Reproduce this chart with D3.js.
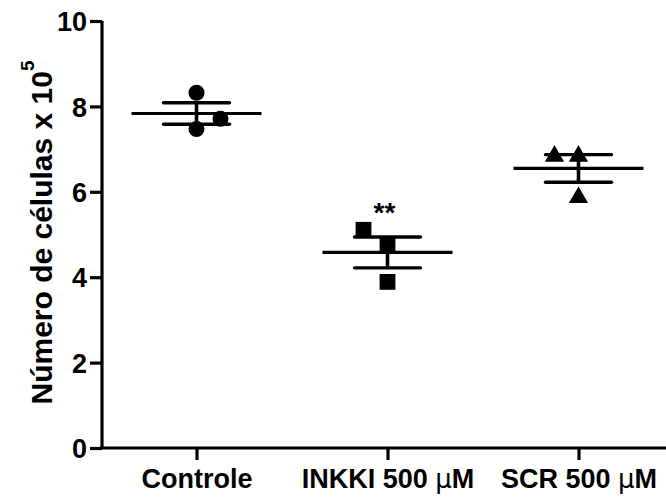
<!DOCTYPE html>
<html>
<head>
<meta charset="utf-8">
<script src="https://cdn.jsdelivr.net/npm/d3@7"></script>
<style>
  html, body { margin: 0; padding: 0; background: #fff; }
  svg { display: block; }
  text { font-family: "Liberation Sans", Arial, sans-serif; font-weight: bold; fill: #000; }
</style>
</head>
<body>
<svg id="chart" width="666" height="497"></svg>
<script>
// Groups and individual cell counts (x 10^5)
const groups = ["Controle", "INKKI 500 µM", "SCR 500 µM"];
const controleValues = [8.32, 7.47, 7.71];
const inkkiValues = [5.11, 4.74, 3.89];
const scrValues = [6.87, 6.87, 5.90];
const yTicks = [0, 2, 4, 6, 8, 10];
const significance = ["", "**", ""];

const seriesValues = [controleValues, inkkiValues, scrValues];
const markerShapes = [d3.symbolCircle, d3.symbolSquare, d3.symbolTriangle];
// horizontal dodge of overlapping points (-1 left, 0 centre, 1 right)
const dodge = [[0, 0, 1], [-1, 0, 0], [-1, 0, 0]];

const svg = d3.select("#chart");
const x = d3.scalePoint().domain(groups).range([101, 674]).padding(0.5);
const y = d3.scaleLinear().domain([0, 10]).range([448, 21]);

const lw = 3.2;

// Y axis
const yAxis = svg.append("g").attr("transform", "translate(102,0)")
  .call(d3.axisLeft(y).tickValues(yTicks).tickSize(12).tickPadding(3).tickFormat(d3.format("d")));
yAxis.select(".domain").attr("stroke", "#000").attr("stroke-width", lw).attr("d", `M0,${y(10)}V${y(0)}`);
yAxis.selectAll(".tick line").attr("stroke", "#000").attr("stroke-width", lw);
yAxis.selectAll(".tick text").attr("font-size", 27).attr("dy", "0.36em");

// X axis
const xAxis = svg.append("g").attr("transform", `translate(0,${y(0)})`)
  .call(d3.axisBottom(x).tickSize(12).tickPadding(5));
xAxis.select(".domain").attr("stroke", "#000").attr("stroke-width", lw).attr("d", `M100.4,0H${680}`);
xAxis.selectAll(".tick line").attr("stroke", "#000").attr("stroke-width", lw);
xAxis.selectAll(".tick text").attr("font-size", 27).attr("y", 40).attr("dy", 0)
  .each(function (d) {
    const t = d3.select(this);
    const m = d.match(/^(.*?)µ(M)$/);
    if (m) {
      t.text(null);
      t.append("tspan").text(m[1]);
      t.append("tspan").attr("font-family", "DejaVu Sans").attr("font-weight", "normal").attr("font-size", 26).text("µ");
      t.append("tspan").text("M");
    }
  });

// Y axis title
const title = svg.append("text")
  .attr("transform", `translate(52,${(y(0) + y(10)) / 2 - 2}) rotate(-90)`)
  .attr("text-anchor", "middle").attr("font-size", 30);
title.append("tspan").text("Número de células x 10");
title.append("tspan").attr("font-size", 19).attr("dy", "-0.95em").text("5");

// Mean and SEM for each group
const dodgeStep = 24;
seriesValues.forEach((vals, i) => {
  const cx = x(groups[i]);
  const mean = d3.mean(vals);
  const sem = d3.deviation(vals) / Math.sqrt(vals.length);
  const g = svg.append("g");

  // points
  vals.forEach((v, j) => {
    g.append("path")
      .attr("d", d3.symbol().type(markerShapes[i]).size(i === 2 ? 160 : i === 1 ? 250 : 200)())
      .attr("transform", `translate(${cx + dodge[i][j] * dodgeStep},${y(v) + (i === 2 ? 1.5 : 0)})`)
      .attr("fill", "#000");
  });

  // SEM stem and caps
  g.append("line").attr("x1", cx).attr("x2", cx).attr("y1", y(mean + sem)).attr("y2", y(mean - sem))
    .attr("stroke", "#000").attr("stroke-width", 3.6);
  [mean + sem, mean - sem].forEach(v => {
    g.append("line").attr("x1", cx - 33).attr("x2", cx + 33).attr("y1", y(v)).attr("y2", y(v))
      .attr("stroke", "#000").attr("stroke-width", 3.4).attr("stroke-linecap", "round");
  });
  // mean line
  g.append("line").attr("x1", cx - 65).attr("x2", cx + 65).attr("y1", y(mean)).attr("y2", y(mean))
    .attr("stroke", "#000").attr("stroke-width", 3.2);

  // significance mark
  if (significance[i]) {
    svg.append("text").attr("x", cx - 3).attr("y", y(Math.max(...vals)) - 8)
      .attr("text-anchor", "middle").attr("font-size", 28).text(significance[i]);
  }
});
</script>
</body>
</html>
